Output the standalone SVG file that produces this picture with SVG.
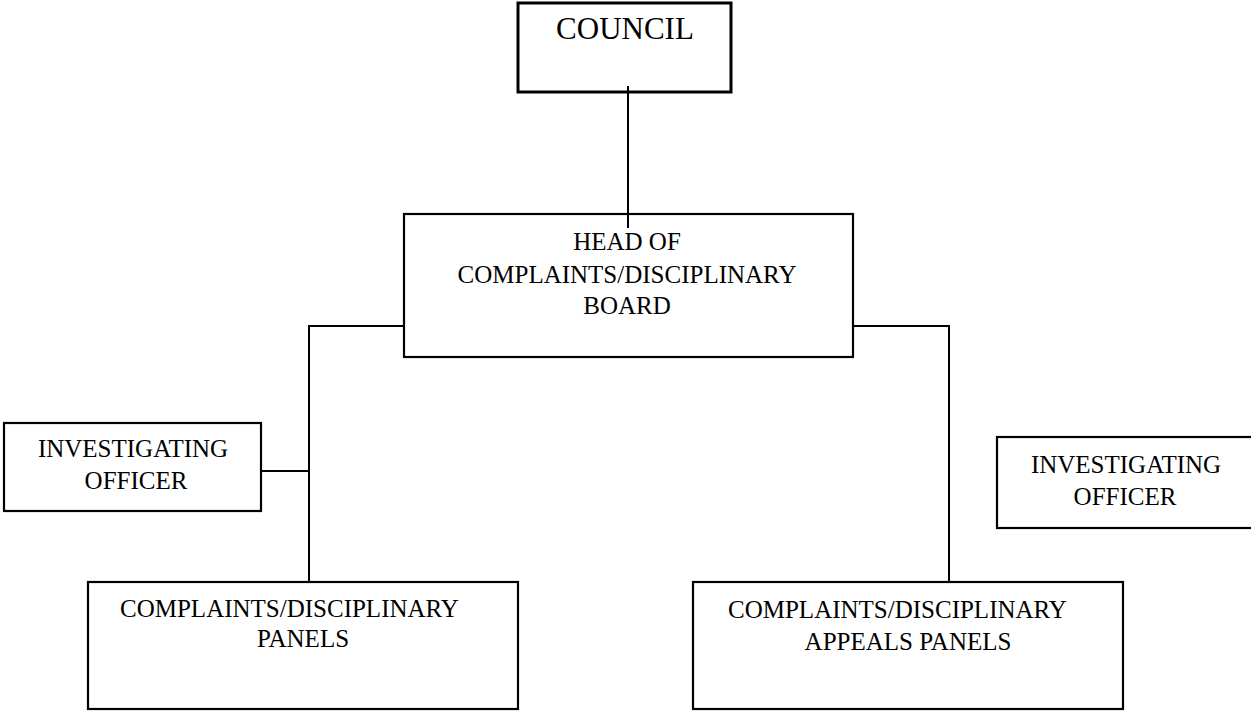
<svg xmlns="http://www.w3.org/2000/svg" width="1251" height="711" viewBox="0 0 1251 711">
<style>
.box{fill:#fff;stroke:#000;stroke-width:2.2}
.thick{stroke-width:3}
.lbl{font-family:"Liberation Serif","Times New Roman",serif;font-size:25px;fill:#000}
.mid{text-anchor:middle}
.conn{fill:none;stroke:#000;stroke-width:2}
</style>
<rect width="1251" height="711" fill="#fff"/>
<g id="council">
<rect class="box thick" x="518" y="3" width="213" height="89"/>
<text class="lbl mid" x="625" y="39" style="font-size:31px">COUNCIL</text>
</g>
<g id="head">
<rect class="box" x="404" y="214" width="449" height="143"/>
<text class="lbl mid" x="627" y="250">HEAD OF</text>
<text class="lbl mid" x="627" y="283">COMPLAINTS/DISCIPLINARY</text>
<text class="lbl mid" x="627" y="314">BOARD</text>
</g>
<g id="inv-left">
<rect class="box" x="4" y="423" width="257" height="88"/>
<text class="lbl mid" x="133" y="457">INVESTIGATING</text>
<text class="lbl mid" x="136" y="489">OFFICER</text>
</g>
<g id="inv-right">
<rect class="box" x="997" y="437" width="258" height="91"/>
<text class="lbl mid" x="1126" y="473">INVESTIGATING</text>
<text class="lbl mid" x="1125" y="505">OFFICER</text>
</g>
<g id="panels">
<rect class="box" x="88" y="582" width="430" height="127"/>
<text class="lbl" x="120" y="617">COMPLAINTS/DISCIPLINARY</text>
<text class="lbl mid" x="303" y="647">PANELS</text>
</g>
<g id="appeals">
<rect class="box" x="693" y="582" width="430" height="127"/>
<text class="lbl" x="728" y="618">COMPLAINTS/DISCIPLINARY</text>
<text class="lbl mid" x="908" y="650">APPEALS PANELS</text>
</g>
<g id="connectors">
<line class="conn" x1="628" y1="86" x2="628" y2="228"/>
<polyline class="conn" points="404,326 309,326 309,582"/>
<line class="conn" x1="261" y1="471" x2="309" y2="471"/>
<polyline class="conn" points="853,326 949,326 949,582"/>
</g>
</svg>
